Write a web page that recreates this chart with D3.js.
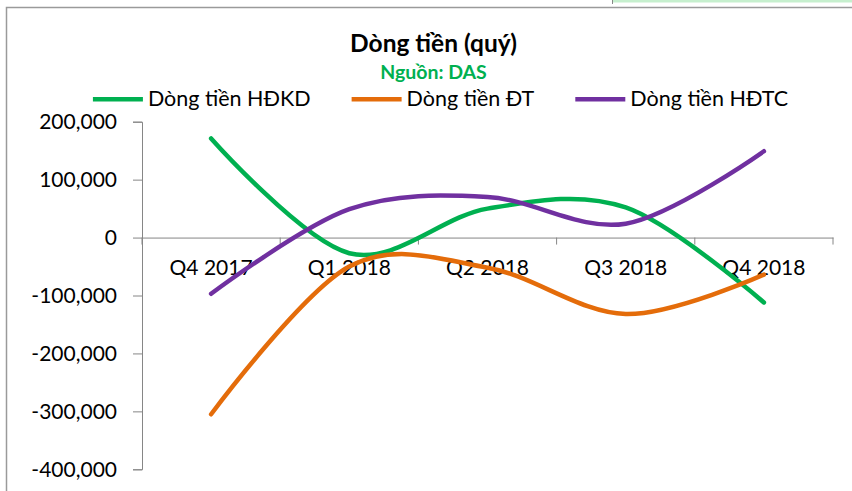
<!DOCTYPE html>
<html>
<head>
<meta charset="utf-8">
<script src="https://cdn.jsdelivr.net/npm/d3@7"></script>
<style>
  body { margin: 0; background: #fff; }
  svg { display: block; font-family: Lato, "Open Sans", sans-serif; }
</style>
</head>
<body>
<svg></svg>
<script>
var width = 852;
var height = 491;

var quarters = ["Q4 2017", "Q1 2018", "Q2 2018", "Q3 2018", "Q4 2018"];
var hdkd = [171000, -27000, 50000, 52000, -112000];
var dt = [-305000, -50000, -52000, -132000, -64000];
var hdtc = [-97000, 49000, 70000, 24000, 149000];
var yTicks = [200000, 100000, 0, -100000, -200000, -300000, -400000];

var seriesNames = ["Dòng tiền HĐKD", "Dòng tiền ĐT", "Dòng tiền HĐTC"];
var seriesColors = ["#00B050", "#E46C0A", "#7030A0"];
var seriesValues = [hdkd, dt, hdtc];

var svg = d3.select("svg")
            .attr("width", width)
            .attr("height", height);

// frame of the chart area
svg.append("rect")
    .attr("x", 612).attr("y", 0)
    .attr("width", 240).attr("height", 2.5)
    .attr("fill", "#c6efce");
svg.append("line")
    .attr("x1", 612.5).attr("x2", 612.5)
    .attr("y1", 0).attr("y2", 4)
    .attr("stroke", "#888");
svg.append("path")
    .attr("d", "M6.5,491V7.5H852")
    .attr("fill", "none")
    .attr("stroke", "#9a9a9a")
    .attr("stroke-width", 1.5);

var xScale = d3.scaleBand()
                .domain(quarters)
                .range([142, 833]);

var yScale = d3.scaleLinear()
                .domain([-400000, 200000])
                .range([469.3, 121.7]);

var fmt = d3.format(",");

var yAxis = d3.axisLeft(yScale)
              .tickValues(yTicks)
              .tickSize(9)
              .tickPadding(16)
              .tickFormat(d => fmt(d).replace("−", "-"));

var gy = svg.append("g")
    .attr("transform", "translate(142,0)")
    .call(yAxis);
gy.select(".domain").attr("stroke", "#868686");
gy.selectAll(".tick line").attr("stroke", "#868686");
gy.selectAll("text")
    .attr("font-size", 21)
    .attr("font-family", "Lato")
    .attr("fill", "#000");

var xAxis = d3.axisBottom(xScale)
              .tickSize(0)
              .tickPadding(23);

var gx = svg.append("g")
    .attr("transform", "translate(0," + yScale(0) + ")")
    .call(xAxis);
gx.select(".domain").attr("stroke", "#868686");
gx.selectAll("text")
    .attr("font-size", 21)
    .attr("font-family", "Lato")
    .attr("fill", "#000");

// category boundary ticks
var bounds = quarters.map(q => xScale(q)).concat([xScale.range()[1]]);
gx.selectAll(".bound")
    .data(bounds)
    .enter()
    .append("line")
      .attr("x1", d => d).attr("x2", d => d)
      .attr("y1", 0).attr("y2", 7)
      .attr("stroke", "#868686");

var line = d3.line()
             .x((d, i) => xScale(quarters[i]) + xScale.bandwidth() / 2)
             .y(d => yScale(d))
             .curve(d3.curveCardinal.tension(0));

svg.selectAll(".series")
    .data(seriesValues)
    .enter()
    .append("path")
      .attr("class", "series")
      .attr("d", d => line(d))
      .attr("fill", "none")
      .attr("stroke", (d, i) => seriesColors[i])
      .attr("stroke-width", 4.5)
      .attr("stroke-linecap", "round");

svg.append("text")
    .attr("x", 433.5)
    .attr("y", 51.7)
    .attr("text-anchor", "middle")
    .attr("font-size", 24.5)
    .attr("font-weight", "bold")
    .text("Dòng tiền (quý)");

svg.append("text")
    .attr("x", 433.5)
    .attr("y", 79)
    .attr("text-anchor", "middle")
    .attr("font-size", 19.5)
    .attr("font-weight", "bold")
    .attr("fill", "#00B050")
    .text("Nguồn: DAS");

// legend, laid out from measured text widths and centred
var legend = svg.append("g");
var items = legend.selectAll("g")
    .data(seriesNames)
    .enter()
    .append("g");
items.append("line")
    .attr("x1", 0).attr("x2", 50)
    .attr("y1", 99.3).attr("y2", 99.3)
    .attr("stroke", (d, i) => seriesColors[i])
    .attr("stroke-width", 4.5);
items.append("text")
    .attr("x", 55)
    .attr("y", 106)
    .attr("font-size", 21.5)
    .text(d => d);

var cursor = 0;
items.each(function () {
  var w = d3.select(this).select("text").node().getComputedTextLength();
  d3.select(this).attr("transform", "translate(" + cursor + ",0)");
  cursor += 55 + w + 41;
});
var total = cursor - 41;
legend.attr("transform", "translate(" + (440.5 - total / 2) + ",0)");
</script>
</body>
</html>
